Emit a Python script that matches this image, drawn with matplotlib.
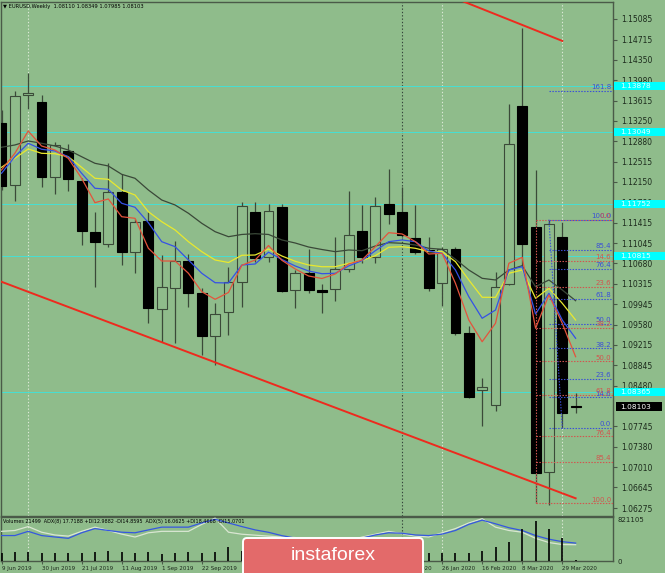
import numpy as np
import matplotlib
matplotlib.use("Agg")
import matplotlib.pyplot as plt
from matplotlib.patches import Rectangle, FancyBboxPatch
import matplotlib.transforms as mtransforms

# ---------------- data ----------------
opens = [1.1322, 1.1209, 1.1371, 1.1359, 1.1223, 1.1271, 1.1217, 1.1125, 1.1103, 1.1196,
         1.1089, 1.1145, 1.0986, 1.1023, 1.1073, 1.1015, 1.0937, 1.0981, 1.1034, 1.1160,
         1.1080, 1.1170, 1.1020, 1.1050, 1.1020, 1.1022, 1.1058, 1.1126, 1.1079, 1.1175,
         1.1160, 1.1114, 1.1092, 1.1032, 1.1094, 1.0943, 1.0840, 1.0813, 1.1031, 1.1352,
         1.1134, 1.0692, 1.1116, 1.08110]
highs = [1.1345, 1.1379, 1.1412, 1.1372, 1.1286, 1.1283, 1.1222, 1.1161, 1.1249, 1.1229,
         1.1149, 1.1161, 1.1083, 1.1109, 1.1086, 1.1023, 1.0997, 1.1062, 1.1178, 1.1179,
         1.1175, 1.1175, 1.1056, 1.1095, 1.1031, 1.1115, 1.1199, 1.1173, 1.1188, 1.1239,
         1.1206, 1.1173, 1.1116, 1.1098, 1.1098, 1.0956, 1.0861, 1.1052, 1.1355, 1.1493,
         1.1236, 1.1146, 1.1143, 1.08349]
lows = [1.1200, 1.1181, 1.1346, 1.1206, 1.1193, 1.1199, 1.1101, 1.1026, 1.1098, 1.1065,
        1.1051, 1.0960, 1.0927, 1.0925, 1.0989, 1.0903, 1.0885, 1.0939, 1.0990, 1.1071,
        1.1071, 1.1016, 1.0987, 1.1014, 1.0979, 1.1001, 1.1053, 1.1068, 1.1068, 1.1140,
        1.1116, 1.1086, 1.1019, 1.0991, 1.0940, 1.0825, 1.0775, 1.0803, 1.1030, 1.1062,
        1.0636, 1.0633, 1.0771, 1.07985]
closes = [1.1208, 1.1369, 1.1375, 1.1224, 1.1282, 1.1220, 1.1127, 1.1107, 1.1197, 1.1088,
          1.1142, 1.0987, 1.1026, 1.1073, 1.1015, 1.0937, 1.0977, 1.1035, 1.1172, 1.1078,
          1.1163, 1.1018, 1.1050, 1.1020, 1.1016, 1.1058, 1.1119, 1.1079, 1.1172, 1.1158,
          1.1119, 1.1089, 1.1023, 1.1095, 1.0942, 1.0827, 1.0845, 1.1025, 1.1283, 1.1104,
          1.0690, 1.1139, 1.0799, 1.08103]

ma_red = [1.12365, 1.12665, 1.13067, 1.12797, 1.12725, 1.12575, 1.12215, 1.11776, 1.11842, 1.11523,
          1.11494, 1.10954, 1.10725, 1.10725, 1.10504, 1.10172, 1.10035, 1.10158, 1.10648, 1.10743,
          1.11004, 1.10738, 1.10581, 1.10455, 1.10410, 1.10491, 1.10671, 1.10743, 1.10983, 1.11235,
          1.11212, 1.11073, 1.10851, 1.10864, 1.10323, 1.09662, 1.09271, 1.09603, 1.10684, 1.10792,
          1.09513, 1.10113, 1.09603, 1.09001]
ma_blue = [1.12305, 1.12604, 1.12846, 1.12738, 1.12707, 1.12604, 1.12305, 1.12035, 1.12017, 1.11765,
           1.11693, 1.11415, 1.11073, 1.10983, 1.10743, 1.10504, 1.10334, 1.10329, 1.10653, 1.10671,
           1.10884, 1.10752, 1.10635, 1.10545, 1.10496, 1.10504, 1.10635, 1.10731, 1.10911, 1.11073,
           1.11104, 1.11073, 1.10905, 1.10864, 1.10563, 1.10082, 1.09693, 1.09842, 1.10563, 1.10622,
           1.09770, 1.10143, 1.09662, 1.09333]
ma_yellow = [1.12413, 1.12575, 1.12743, 1.12665, 1.12658, 1.12604, 1.12413, 1.12215, 1.12197, 1.12004,
             1.11914, 1.11613, 1.11433, 1.11284, 1.11073, 1.10893, 1.10743, 1.10698, 1.10828, 1.10833,
             1.10941, 1.10815, 1.10720, 1.10653, 1.10622, 1.10622, 1.10684, 1.10731, 1.10821, 1.10972,
             1.10983, 1.10954, 1.10893, 1.10893, 1.10713, 1.10383, 1.10071, 1.10071, 1.10504, 1.10563,
             1.10053, 1.10233, 1.09963, 1.09662]
ma_gray = [1.12774, 1.12815, 1.12887, 1.12846, 1.12797, 1.12725, 1.12604, 1.12485, 1.12437, 1.12287,
           1.12215, 1.12004, 1.11824, 1.11734, 1.11585, 1.11404, 1.11253, 1.11163, 1.11203, 1.11217,
           1.11203, 1.11104, 1.11049, 1.10977, 1.10932, 1.10893, 1.10923, 1.10911, 1.10995, 1.11055,
           1.11044, 1.11013, 1.10954, 1.10936, 1.10756, 1.10563, 1.10413, 1.10383, 1.10563, 1.10641,
           1.10262, 1.10383, 1.10203, 1.10010]

volumes = [150000, 185000, 170000, 155000, 150000, 150000, 160000, 175000, 190000, 185000,
           160000, 175000, 145000, 165000, 170000, 165000, 185000, 270000, 200000, 190000,
           180000, 170000, 160000, 150000, 140000, 160000, 170000, 150000, 100000, 120000,
           160000, 150000, 150000, 155000, 155000, 165000, 190000, 280000, 370000, 640000,
           790000, 640000, 460000, 21499]
adx8 = [25.6, 25.6, 30.0, 25.6, 24.1, 22.7, 28.5, 32.9, 30.9, 29.1,
        28.5, 31.5, 34.4, 34.4, 34.4, 38.8, 42.6, 38.8, 35.0, 31.5,
        29.0, 25.5, 23.0, 22.0, 20.0, 19.0, 20.0, 23.0, 26.2, 28.5,
        28.0, 26.2, 25.6, 27.1, 30.9, 37.3, 41.7, 37.9, 33.8, 30.9,
        25.6, 21.8, 19.2, 17.72]
adx5 = [30.0, 30.9, 35.0, 29.1, 26.2, 25.0, 30.0, 34.4, 30.9, 27.1,
        24.1, 28.5, 30.0, 30.0, 30.0, 37.3, 43.8, 29.1, 27.0, 26.0,
        25.0, 24.0, 23.5, 21.0, 19.0, 18.0, 20.0, 24.0, 27.0, 30.0,
        27.5, 25.0, 24.1, 28.5, 32.9, 38.8, 43.2, 34.4, 30.9, 29.1,
        22.7, 18.3, 16.2, 16.06]

date_tick_idx = [0, 3, 6, 9, 12, 15, 18, 21, 24, 27, 30, 33, 36, 39, 42]
date_tick_labels = ["9 Jun 2019", "30 Jun 2019", "21 Jul 2019", "11 Aug 2019", "1 Sep 2019",
                    "22 Sep 2019", "13 Oct 2019", "3 Nov 2019", "24 Nov 2019", "15 Dec 2019",
                    "5 Jan 2020", "26 Jan 2020", "16 Feb 2020", "8 Mar 2020", "29 Mar 2020"]
price_ticks = [1.15085, 1.14715, 1.14350, 1.13980, 1.13615, 1.13250, 1.12880, 1.12515, 1.12150,
               1.11780, 1.11415, 1.11045, 1.10680, 1.10315, 1.09945, 1.09580, 1.09215, 1.08845,
               1.08480, 1.07745, 1.07380, 1.07010, 1.06645, 1.06275]
cyan_levels = [1.13878, 1.13049, 1.11752, 1.10815, 1.08365]
fib_ratios = [0.0, 14.6, 23.6, 38.2, 50.0, 61.8, 76.4, 85.4, 100.0]
fib_blue_extra = [161.8]
fib_high = 1.1147
fib_red_low = 1.0636
fib_blue_low = 1.0772
fib_red_idx = 40
fib_blue_idx = (41, 42)
trend_lower_x = [-0.1, 43.0]
trend_lower_y = [1.1036, 1.0645]
trend_upper_x = [34.6, 42.0]
trend_upper_y = [1.1540, 1.1469]
vlines_light = [2, 33, 42]
vlines_dark = [30]
last_price = 1.08103
vol_max = 821105
header = "\u25BC EURUSD,Weekly  1.08110 1.08349 1.07985 1.08103"
adx_text = ("Volumes 21499  ADX(8) 17.7188 +DI12.9882 -DI14.8595  "
            "ADX(5) 16.0625 +DI18.4668 -DI15.0701")
watermark = "instaforex"

# ---------------- style ----------------
W, H = 665, 573
BG = "#8fbc8b"
WICK = "#3b4a39"
AXC = "#4a5a48"
TXT = "#1c2a1c"
RED_F = "#d2554f"
BLUE_F = "#3a4fd8"

fig = plt.figure(figsize=(W / 100, H / 100), dpi=100)
fig.patch.set_facecolor(BG)


def rect_px(x0, y0, x1, y1):
    return [x0 / W, 1 - y1 / H, (x1 - x0) / W, (y1 - y0) / H]


ax = fig.add_axes(rect_px(1, 2, 613, 516))
ax2 = fig.add_axes(rect_px(1, 517, 613, 561))
for a in (ax, ax2):
    a.set_facecolor(BG)
    for s in a.spines.values():
        s.set_color(AXC)
        s.set_linewidth(1.0)

XMIN, XMAX = -0.0375, 45.8
ax.set_xlim(XMIN, XMAX)
ax.set_ylim(1.06131, 1.15391)
ax2.set_xlim(XMIN, XMAX)

x = np.arange(len(opens))

# cyan horizontal levels
for lv in cyan_levels:
    ax.axhline(lv, color="#46e0d4", lw=0.7, zorder=1.2)

# vertical separators
for v in vlines_light:
    for a in (ax, ax2):
        a.axvline(v, color="#dbe9d6", lw=0.8, ls=(0, (1.2, 1.8)), zorder=1.1)
for v in vlines_dark:
    for a in (ax, ax2):
        a.axvline(v, color="#34443a", lw=0.8, ls=(0, (1.2, 1.8)), zorder=1.1)

# candles
bw = 0.74
for xi, o, h, l, c in zip(x, opens, highs, lows, closes):
    bull = c >= o
    ax.vlines(xi, l, h, color=WICK, lw=0.9, zorder=2)
    lo, hi = min(o, c), max(o, c)
    hgt = max(hi - lo, 0.00009)
    ax.add_patch(Rectangle((xi - bw / 2, lo), bw, hgt,
                           facecolor=BG if bull else "black",
                           edgecolor=WICK if bull else "black",
                           lw=0.8, zorder=3))

# moving averages
ax.plot(np.arange(len(ma_gray)), ma_gray, color="#3a4838", lw=0.9, zorder=4)
ax.plot(np.arange(len(ma_yellow)), ma_yellow, color="#e9e92e", lw=0.9, zorder=4)
ax.plot(np.arange(len(ma_blue)), ma_blue, color="#3551e6", lw=0.9, zorder=4)
ax.plot(np.arange(len(ma_red)), ma_red, color="#e4533c", lw=0.9, zorder=4)

# trend lines
ax.plot(trend_lower_x, trend_lower_y, color="#ee2a1e", lw=1.4, zorder=5)
ax.plot(trend_upper_x, trend_upper_y, color="#ee2a1e", lw=1.4, zorder=5)

# Fibonacci levels
blend = mtransforms.blended_transform_factory(ax.transAxes, ax.transData)
lab_x = (611 - 1) / 612
dots = (0, (1.3, 1.3))
rng_red = fib_high - fib_red_low
for r in fib_ratios:
    lv = fib_high - r / 100 * rng_red
    ax.plot([fib_red_idx, XMAX], [lv, lv], color=RED_F, lw=0.8, ls=dots, zorder=5)
ax.plot([fib_red_idx, fib_red_idx], [fib_red_low, fib_high], color=RED_F, lw=0.8, ls=dots, zorder=5)
rng_blue = fib_high - fib_blue_low
for r in fib_ratios + fib_blue_extra:
    lv = fib_blue_low + r / 100 * rng_blue
    ax.plot([fib_blue_idx[0], XMAX], [lv, lv], color=BLUE_F, lw=0.8, ls=dots, zorder=5)
ax.plot(list(fib_blue_idx), [fib_high, fib_blue_low], color=BLUE_F, lw=0.8, ls=dots, zorder=5)
for r in fib_ratios + fib_blue_extra:
    lv = fib_blue_low + r / 100 * rng_blue
    ax.text(lab_x, lv + 0.00012, f"{r:.1f}", transform=blend, ha="right", va="bottom",
            fontsize=5.0, color=BLUE_F, zorder=6)
for r in fib_ratios:
    lv = fib_high - r / 100 * rng_red
    ax.text(lab_x, lv + 0.00012, f"{r:.1f}", transform=blend, ha="right", va="bottom",
            fontsize=5.0, color=RED_F, zorder=6)

# right price axis
ax.yaxis.tick_right()
ax.set_yticks(price_ticks)
ax.set_yticklabels([f"{v:.5f}" for v in price_ticks])
ax.tick_params(axis="y", direction="out", length=3, width=0.8, color=AXC,
               labelsize=5.5, labelcolor=TXT, pad=3)
ax.set_xticks([])

box_w = 51 / 612
box_h = 0.00150
for lv in cyan_levels:
    ax.add_patch(Rectangle((1.0015, lv - box_h / 2), box_w, box_h, transform=blend,
                           facecolor="#00ffff", edgecolor="none", clip_on=False, zorder=7))
    ax.text(1.0115, lv, f"{lv:.5f}", transform=blend, ha="left", va="center",
            fontsize=5.3, color="#e8ffff", clip_on=False, zorder=8)
ax.add_patch(Rectangle((1.005, last_price - box_h / 2), 46 / 612, box_h, transform=blend,
                       facecolor="black", edgecolor="none", clip_on=False, zorder=7))
ax.text(1.0115, last_price, f"{last_price:.5f}", transform=blend, ha="left", va="center",
        fontsize=5.3, color="white", clip_on=False, zorder=8)

ax.text(0.003, 0.997, header, transform=ax.transAxes, ha="left", va="top",
        fontsize=3.7, color="black", zorder=8)

# indicator panel
ax2.set_ylim(-1, 45)
ax2.set_yticks([])
ax2.plot(np.arange(len(adx5)), adx5, color="#d9e6d2", lw=0.9, zorder=3)
ax2.plot(np.arange(len(adx8)), adx8, color="#3557e0", lw=0.9, zorder=3)
ax2.text(0.003, 0.96, adx_text, transform=ax2.transAxes, ha="left", va="top",
         fontsize=3.5, color="black", zorder=8)
ax2.set_xticks(date_tick_idx)
ax2.set_xticklabels(date_tick_labels)
for t in ax2.get_xticklabels():
    t.set_ha("left")
ax2.tick_params(axis="x", direction="out", length=2, width=0.8, color=AXC,
                labelsize=4.0, labelcolor=TXT, pad=1.5)

ax3 = ax2.twinx()
ax3.set_xlim(XMIN, XMAX)
ax3.set_ylim(0, vol_max * 1.07)
ax3.vlines(np.arange(len(volumes)), 0, volumes, color="black", lw=1.2, zorder=2)
ax3.set_yticks([0, vol_max])
ax3.set_yticklabels(["0", str(vol_max)])
ax3.tick_params(axis="y", direction="out", length=0, labelsize=5.0, labelcolor=TXT, pad=3)
for s in ax3.spines.values():
    s.set_visible(False)

# watermark overlay
ov = fig.add_axes([0, 0, 1, 1], zorder=20)
ov.set_xlim(0, W)
ov.set_ylim(H, 0)
ov.axis("off")
ov.add_patch(FancyBboxPatch((243, 538), 180, 42, boxstyle="round,pad=0,rounding_size=4",
                            facecolor="#e36a6a", edgecolor="white", lw=1.4))
ov.text(333, 556, watermark, color="white", fontsize=14, ha="center", va="center",
        family="Liberation Sans")

fig.savefig("out.png", dpi=100, facecolor=BG)
